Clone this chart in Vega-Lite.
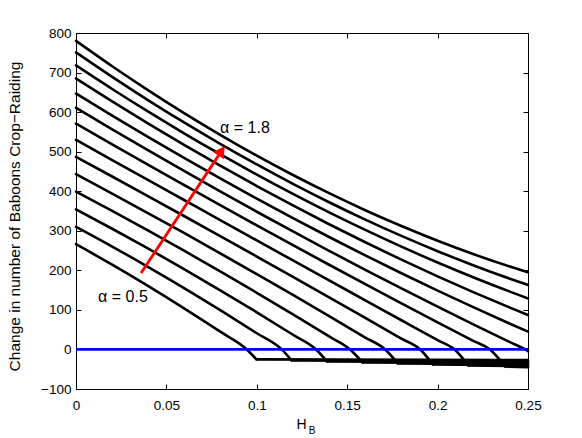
{
  "$schema": "https://vega.github.io/schema/vega-lite/v6.json",
  "width": 452,
  "height": 356,
  "autosize": "none",
  "padding": {"left": 76, "top": 33, "right": 54, "bottom": 49},
  "background": "white",
  "config": {
    "view": {"stroke": "black", "strokeWidth": 1},
    "font": "Liberation Sans",
    "axis": {"domainColor": "black", "tickColor": "black", "labelColor": "black", "titleColor": "black", "labelFont": "Liberation Sans", "titleFont": "Liberation Sans", "labelFontSize": 13.5, "titleFontSize": 15.5, "titleFontWeight": "normal", "grid": false, "labelFlush": false}
  },
  "datasets": {
    "curves": [
      {"a":"c0","h":0,"v":266},{"a":"c0","h":0.02,"v":214.2},{"a":"c0","h":0.04,"v":160},{"a":"c0","h":0.06,"v":103.3},{"a":"c0","h":0.08,"v":44.3},{"a":"c0","h":0.0945,"v":0},{"a":"c0","h":0.0998,"v":-25},
      {"a":"c1","h":0,"v":310},{"a":"c1","h":0.02,"v":260.2},{"a":"c1","h":0.04,"v":208.3},{"a":"c1","h":0.06,"v":154.6},{"a":"c1","h":0.08,"v":98.7},{"a":"c1","h":0.1,"v":41},{"a":"c1","h":0.1138,"v":0},{"a":"c1","h":0.1192,"v":-27.6},
      {"a":"c2","h":0,"v":354},{"a":"c2","h":0.02,"v":305.1},{"a":"c2","h":0.04,"v":254.7},{"a":"c2","h":0.06,"v":202.6},{"a":"c2","h":0.08,"v":149},{"a":"c2","h":0.1,"v":93.9},{"a":"c2","h":0.12,"v":37.1},{"a":"c2","h":0.1328,"v":0},{"a":"c2","h":0.1388,"v":-30.2},
      {"a":"c3","h":0,"v":399},{"a":"c3","h":0.02,"v":350.1},{"a":"c3","h":0.04,"v":300.2},{"a":"c3","h":0.06,"v":249},{"a":"c3","h":0.08,"v":196.7},{"a":"c3","h":0.1,"v":143.2},{"a":"c3","h":0.12,"v":88.6},{"a":"c3","h":0.14,"v":32.9},{"a":"c3","h":0.1516,"v":0},{"a":"c3","h":0.1585,"v":-32.8},
      {"a":"c4","h":0,"v":443},{"a":"c4","h":0.02,"v":394},{"a":"c4","h":0.04,"v":344.2},{"a":"c4","h":0.06,"v":293.8},{"a":"c4","h":0.08,"v":242.5},{"a":"c4","h":0.1,"v":190.5},{"a":"c4","h":0.12,"v":137.8},{"a":"c4","h":0.14,"v":84.3},{"a":"c4","h":0.16,"v":30.1},{"a":"c4","h":0.171,"v":0},{"a":"c4","h":0.178,"v":-35.4},
      {"a":"c5","h":0,"v":487},{"a":"c5","h":0.02,"v":437.2},{"a":"c5","h":0.04,"v":387.1},{"a":"c5","h":0.06,"v":336.7},{"a":"c5","h":0.08,"v":286},{"a":"c5","h":0.1,"v":234.9},{"a":"c5","h":0.12,"v":183.5},{"a":"c5","h":0.14,"v":131.8},{"a":"c5","h":0.16,"v":79.7},{"a":"c5","h":0.18,"v":27.3},{"a":"c5","h":0.1904,"v":0},{"a":"c5","h":0.1974,"v":-38},
      {"a":"c6","h":0,"v":530},{"a":"c6","h":0.02,"v":478.9},{"a":"c6","h":0.04,"v":428},{"a":"c6","h":0.06,"v":377.2},{"a":"c6","h":0.08,"v":326.4},{"a":"c6","h":0.1,"v":275.7},{"a":"c6","h":0.12,"v":225.1},{"a":"c6","h":0.14,"v":174.5},{"a":"c6","h":0.16,"v":124.2},{"a":"c6","h":0.18,"v":73.8},{"a":"c6","h":0.2,"v":23.5},{"a":"c6","h":0.2094,"v":0},{"a":"c6","h":0.2171,"v":-40.6},
      {"a":"c7","h":0,"v":571},{"a":"c7","h":0.02,"v":518.6},{"a":"c7","h":0.04,"v":466.5},{"a":"c7","h":0.06,"v":415.1},{"a":"c7","h":0.08,"v":364},{"a":"c7","h":0.1,"v":313.6},{"a":"c7","h":0.12,"v":263.6},{"a":"c7","h":0.14,"v":214.1},{"a":"c7","h":0.16,"v":165.1},{"a":"c7","h":0.18,"v":116.6},{"a":"c7","h":0.2,"v":68.6},{"a":"c7","h":0.22,"v":21.2},{"a":"c7","h":0.229,"v":0},{"a":"c7","h":0.2374,"v":-43.2},
      {"a":"c8","h":0,"v":611},{"a":"c8","h":0.02,"v":556.6},{"a":"c8","h":0.04,"v":503.1},{"a":"c8","h":0.06,"v":450.5},{"a":"c8","h":0.08,"v":398.9},{"a":"c8","h":0.1,"v":348.1},{"a":"c8","h":0.12,"v":298.3},{"a":"c8","h":0.14,"v":249.4},{"a":"c8","h":0.16,"v":201.4},{"a":"c8","h":0.18,"v":154.4},{"a":"c8","h":0.2,"v":108.2},{"a":"c8","h":0.22,"v":62.9},{"a":"c8","h":0.24,"v":18.6},{"a":"c8","h":0.2485,"v":0},{"a":"c8","h":0.25,"v":-4},
      {"a":"c9","h":0,"v":647},{"a":"c9","h":0.02,"v":591.2},{"a":"c9","h":0.04,"v":536.8},{"a":"c9","h":0.06,"v":483.6},{"a":"c9","h":0.08,"v":431.7},{"a":"c9","h":0.1,"v":381.2},{"a":"c9","h":0.12,"v":332.1},{"a":"c9","h":0.14,"v":284.3},{"a":"c9","h":0.16,"v":237.7},{"a":"c9","h":0.18,"v":192.6},{"a":"c9","h":0.2,"v":148.8},{"a":"c9","h":0.22,"v":106.2},{"a":"c9","h":0.24,"v":65},{"a":"c9","h":0.25,"v":45},
      {"a":"c10","h":0,"v":685},{"a":"c10","h":0.02,"v":627.2},{"a":"c10","h":0.04,"v":571},{"a":"c10","h":0.06,"v":516.6},{"a":"c10","h":0.08,"v":464},{"a":"c10","h":0.1,"v":413.1},{"a":"c10","h":0.12,"v":364},{"a":"c10","h":0.14,"v":316.5},{"a":"c10","h":0.16,"v":270.9},{"a":"c10","h":0.18,"v":226.9},{"a":"c10","h":0.2,"v":184.8},{"a":"c10","h":0.22,"v":144.4},{"a":"c10","h":0.24,"v":105.7},{"a":"c10","h":0.25,"v":87},
      {"a":"c11","h":0,"v":718},{"a":"c11","h":0.02,"v":658.5},{"a":"c11","h":0.04,"v":601.1},{"a":"c11","h":0.06,"v":545.9},{"a":"c11","h":0.08,"v":492.9},{"a":"c11","h":0.1,"v":442},{"a":"c11","h":0.12,"v":393.3},{"a":"c11","h":0.14,"v":346.6},{"a":"c11","h":0.16,"v":302.2},{"a":"c11","h":0.18,"v":259.9},{"a":"c11","h":0.2,"v":219.8},{"a":"c11","h":0.22,"v":181.9},{"a":"c11","h":0.24,"v":146.1},{"a":"c11","h":0.25,"v":129},
      {"a":"c12","h":0,"v":751},{"a":"c12","h":0.02,"v":689.2},{"a":"c12","h":0.04,"v":629.9},{"a":"c12","h":0.06,"v":573.2},{"a":"c12","h":0.08,"v":519.1},{"a":"c12","h":0.1,"v":467.6},{"a":"c12","h":0.12,"v":418.6},{"a":"c12","h":0.14,"v":372.2},{"a":"c12","h":0.16,"v":328.3},{"a":"c12","h":0.18,"v":287.1},{"a":"c12","h":0.2,"v":248.4},{"a":"c12","h":0.22,"v":212.4},{"a":"c12","h":0.24,"v":178.8},{"a":"c12","h":0.25,"v":163},
      {"a":"c13","h":0,"v":780},{"a":"c13","h":0.02,"v":716},{"a":"c13","h":0.04,"v":655.1},{"a":"c13","h":0.06,"v":597},{"a":"c13","h":0.08,"v":542.1},{"a":"c13","h":0.1,"v":490},{"a":"c13","h":0.12,"v":441},{"a":"c13","h":0.14,"v":395},{"a":"c13","h":0.16,"v":351.9},{"a":"c13","h":0.18,"v":311.9},{"a":"c13","h":0.2,"v":274.7},{"a":"c13","h":0.22,"v":240.6},{"a":"c13","h":0.24,"v":209.5},{"a":"c13","h":0.25,"v":195}
    ],
    "flats": [
      {"a":"f0","h":0.0998,"v":-25},{"a":"f0","h":0.25,"v":-27},
      {"a":"f1","h":0.1192,"v":-27.6},{"a":"f1","h":0.25,"v":-29.6},
      {"a":"f2","h":0.1388,"v":-30.2},{"a":"f2","h":0.25,"v":-32.2},
      {"a":"f3","h":0.1585,"v":-32.8},{"a":"f3","h":0.25,"v":-34.8},
      {"a":"f4","h":0.178,"v":-35.4},{"a":"f4","h":0.25,"v":-37.4},
      {"a":"f5","h":0.1974,"v":-38},{"a":"f5","h":0.25,"v":-40},
      {"a":"f6","h":0.2171,"v":-40.6},{"a":"f6","h":0.25,"v":-42.6},
      {"a":"f7","h":0.2374,"v":-43.2},{"a":"f7","h":0.25,"v":-45.2}
    ],
    "arrow": [{"h":0.036,"v":193,"h2":0.0805,"v2":502}],
    "labels": [
      {"h":0.0797,"v":560,"t":"α = 1.8"},
      {"h":0.0122,"v":132,"t":"α = 0.5"}
    ],
    "sub": [{"h":0.1306,"v":-206,"t":"B"}]
  },
  "resolve": {"axis": {"x": "independent", "y": "independent"}},
  "layer": [
    {
      "data": {"name": "curves"},
      "mark": {"type": "line", "color": "black", "strokeWidth": 2.6, "interpolate": "monotone", "strokeCap": "round", "strokeJoin": "round"},
      "encoding": {
        "x": {"field": "h", "type": "quantitative", "scale": {"domain": [0, 0.25], "nice": false, "zero": false},
              "axis": {"values": [0, 0.05, 0.1, 0.15, 0.2, 0.25], "format": "~g", "title": "H", "tickSize": -5, "labelPadding": 14, "titleX": 225, "titleY": 35, "titleBaseline": "middle", "titleFontSize": 14}},
        "y": {"field": "v", "type": "quantitative", "scale": {"domain": [-100, 800], "nice": false, "zero": false},
              "axis": {"values": [-100, 0, 100, 200, 300, 400, 500, 600, 700, 800], "title": "Change in number of Baboons Crop−Raiding", "tickSize": -5, "labelPadding": 10, "titleX": -62, "titleY": 183, "titleBaseline": "middle", "titleAlign": "center"}},
        "detail": {"field": "a"}
      }
    },
    {
      "data": {"name": "flats"},
      "mark": {"type": "line", "color": "black", "strokeWidth": 2.6, "strokeCap": "round"},
      "encoding": {
        "x": {"field": "h", "type": "quantitative", "axis": null},
        "y": {"field": "v", "type": "quantitative", "axis": null},
        "detail": {"field": "a"}
      }
    },
    {
      "data": {"values": [{"z": 0}]},
      "mark": {"type": "rule", "color": "#0000FF", "strokeWidth": 2.8},
      "encoding": {"y": {"field": "z", "type": "quantitative", "axis": null}}
    },
    {
      "data": {"name": "arrow"},
      "mark": {"type": "rule", "color": "#FF0000", "strokeWidth": 2.8},
      "encoding": {
        "x": {"field": "h", "type": "quantitative", "axis": {"orient": "top", "labels": false, "title": null, "tickSize": -5, "values": [0, 0.05, 0.1, 0.15, 0.2, 0.25], "domain": false}},
        "y": {"field": "v", "type": "quantitative", "axis": {"orient": "right", "labels": false, "title": null, "tickSize": -5, "values": [-100, 0, 100, 200, 300, 400, 500, 600, 700, 800], "domain": false}},
        "x2": {"field": "h2"},
        "y2": {"field": "v2"}
      }
    },
    {
      "data": {"name": "arrow"},
      "mark": {"type": "point", "shape": "triangle-up", "filled": true, "color": "#FF0000", "size": 170, "angle": 33, "opacity": 1},
      "encoding": {
        "x": {"field": "h2", "type": "quantitative", "axis": null},
        "y": {"field": "v2", "type": "quantitative", "axis": null}
      }
    },
    {
      "data": {"name": "labels"},
      "mark": {"type": "text", "align": "left", "baseline": "middle", "fontSize": 16, "font": "Liberation Sans", "color": "black"},
      "encoding": {
        "x": {"field": "h", "type": "quantitative", "axis": null},
        "y": {"field": "v", "type": "quantitative", "axis": null},
        "text": {"field": "t"}
      }
    },
    {
      "data": {"name": "sub"},
      "mark": {"type": "text", "align": "center", "baseline": "middle", "fontSize": 10, "font": "Liberation Sans", "color": "black"},
      "encoding": {
        "x": {"field": "h", "type": "quantitative", "axis": null},
        "y": {"field": "v", "type": "quantitative", "axis": null},
        "text": {"field": "t"}
      }
    }
  ]
}
